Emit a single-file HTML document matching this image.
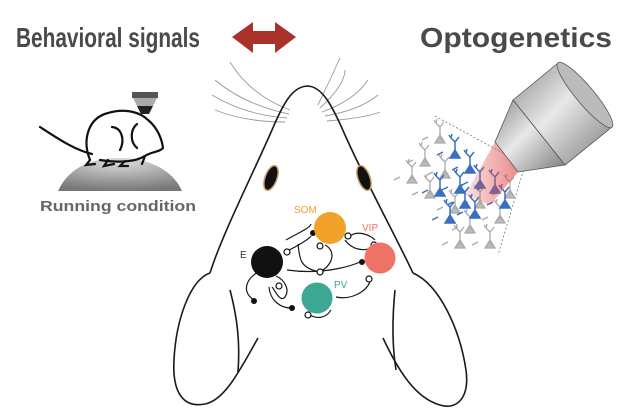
<!DOCTYPE html>
<html><head><meta charset="utf-8"><style>
html,body{margin:0;padding:0;background:#fff;width:628px;height:417px;overflow:hidden}
svg{display:block}
</style></head><body>
<svg width="628" height="417" viewBox="0 0 628 417" xmlns="http://www.w3.org/2000/svg">
<defs>
<radialGradient id="dome" cx="0.5" cy="0.1" r="0.9"><stop offset="0" stop-color="#ddd"/><stop offset="1" stop-color="#777"/></radialGradient>
<linearGradient id="cyl" x1="0" y1="0" x2="1" y2="1"><stop offset="0" stop-color="#8d8d8d"/><stop offset="0.45" stop-color="#e8e8e8"/><stop offset="1" stop-color="#7a7a7a"/></linearGradient>
<linearGradient id="beam" x1="0" y1="0" x2="1" y2="0"><stop offset="0" stop-color="#e04a4a" stop-opacity="0.2"/><stop offset="1" stop-color="#e04a4a" stop-opacity="0.8"/></linearGradient>
<g id="nrG" stroke="#aaa" fill="#bbb" stroke-width="1.3"><path d="M0,0 l-5,8 l10,0z"/><path d="M0,0 l0,-8 m0,0 l-4,-4 m4,4 l4,-5 m-8,1 l-2,-3 m2,3 l1,-4 m-9,18 l-6,3 m16,-3 l5,3" fill="none"/></g>
<g id="nrB" stroke="#3a6fc0" fill="#3a6fc0" stroke-width="1.5"><path d="M0,0 l-5,8 l10,0z"/><path d="M0,0 l0,-8 m0,0 l-4,-4 m4,4 l4,-5 m-8,1 l-2,-3 m2,3 l1,-4 m-9,18 l-6,3 m16,-3 l5,3" fill="none"/></g>
</defs>

<!-- titles -->
<text x="16" y="47" font-family="Liberation Sans Narrow, Liberation Sans, sans-serif" font-weight="bold" font-size="28" fill="#4a4a4a" textLength="184" lengthAdjust="spacingAndGlyphs">Behavioral signals</text>
<text x="420" y="47" font-family="Liberation Sans Narrow, Liberation Sans, sans-serif" font-weight="bold" font-size="28" fill="#4a4a4a" textLength="192" lengthAdjust="spacingAndGlyphs">Optogenetics</text>
<path d="M232,37 L253,22 L253,31 L275,31 L275,22 L296,37 L275,53 L275,44 L253,44 L253,53 Z" fill="#a8322a"/>

<!-- whiskers -->
<g stroke="#999" fill="none" stroke-width="0.9">
<path d="M290,110 Q250,95 230,62"/><path d="M289,114 Q245,105 215,80"/><path d="M287,118 Q245,115 212,95"/><path d="M285,122 Q245,122 215,110"/>
<path d="M318,105 Q330,80 340,58"/><path d="M320,108 Q345,85 345,70"/><path d="M322,112 Q355,100 368,80"/><path d="M325,116 Q360,110 378,95"/><path d="M327,121 Q365,118 380,112"/>
</g>

<!-- mouse head -->
<g stroke="#1a1a1a" fill="none" stroke-width="1.6">
<path d="M210,273 C222,235 250,180 272,130 C283,104 292,87 307,86 C322,86 332,105 345,135 C365,180 395,235 413,273"/>
<path d="M210,273 C190,280 176,320 174,360 C172,395 185,408 205,404 C225,400 240,370 258,338"/>
<path d="M230,290 C238,320 240,345 238,372"/>
<path d="M413,273 C440,285 460,330 466,370 C470,400 455,410 440,405 C415,398 398,370 383,338"/>
<path d="M395,290 C392,320 392,345 396,370"/>
</g>
<ellipse cx="271" cy="178" rx="6" ry="13" transform="rotate(20 271 178)" fill="#111" stroke="#c9a26a" stroke-width="1.5"/>
<ellipse cx="364" cy="178" rx="6" ry="13" transform="rotate(-20 364 178)" fill="#111" stroke="#c9a26a" stroke-width="1.5"/>

<!-- circuit -->
<g stroke="#1a1a1a" fill="none" stroke-width="1.2">
<path d="M285,252 C300,245 310,238 311,236 M286,240 C300,232 310,228 311,224"/>
<path d="M287,270 C330,276 360,262 360,262"/>
<path d="M298,244 C300,260 300,268 320,272 C335,263 335,250 325,245"/>
<path d="M345,240 C352,250 365,252 373,247 M350,236 C358,230 370,235 375,240"/>
<path d="M258,272 C245,280 242,292 254,300"/>
<path d="M276,276 C285,280 290,290 285,297 C280,303 275,290 272,287 M269,287 C270,300 280,308 291,308"/>
<path d="M336,297 C350,300 365,293 370,282"/>
<path d="M331,310 C325,320 315,318 310,315"/>
</g>
<g fill="#111"><circle cx="313" cy="233" r="3"/><circle cx="362" cy="262" r="3"/><circle cx="254" cy="301" r="3"/><circle cx="292" cy="308" r="3"/></g>
<g fill="#fff" stroke="#111" stroke-width="1.2"><circle cx="287" cy="252" r="3"/><circle cx="320" cy="246" r="3"/><circle cx="348" cy="236" r="3"/><circle cx="374" cy="245" r="3"/><circle cx="320" cy="272" r="3"/><circle cx="279" cy="286" r="3"/><circle cx="369" cy="279" r="3"/><circle cx="308" cy="315" r="3"/></g>
<circle cx="330" cy="228" r="16" fill="#f0a22a"/>
<circle cx="380" cy="258" r="15.5" fill="#ef7268"/>
<circle cx="267" cy="262" r="16" fill="#111"/>
<circle cx="317" cy="298" r="15.5" fill="#3aa893"/>
<g font-family="Liberation Sans, sans-serif" font-size="10">
<text x="294" y="213" fill="#f0a22a">SOM</text>
<text x="362" y="231" fill="#ef7268">VIP</text>
<text x="240" y="258" fill="#333">E</text>
<text x="334" y="288" fill="#3aa893">PV</text>
</g>

<!-- left: running mouse -->
<path d="M58,191 C70,165 95,158 120,158 C145,158 172,168 182,191 Z" fill="url(#dome)"/>
<g stroke="#111" fill="none" stroke-width="2.2" stroke-linecap="round">
<path d="M40,127 C60,140 75,150 92,154"/>
<path d="M90,160 C82,140 88,118 108,113 C125,108 140,112 148,120 C158,128 162,140 163,148 C160,152 150,152 145,156 C135,162 120,163 100,160"/>
<path d="M112,127 C122,128 125,140 120,150"/>
<path d="M137,124 C130,130 130,142 137,148"/>
<path d="M90,160 L86,165 L95,164 M108,160 L104,166 L114,164 M125,161 L120,166 L128,166 M145,156 L142,164"/>
</g>
<rect x="132" y="92" width="26" height="6" fill="#555"/>
<path d="M133,98 L157,98 L153,106 L137,106 Z" fill="#aaa"/>
<path d="M137,106 L153,106 L149,114 L141,114 Z" fill="#222"/>
<text x="40" y="211" font-family="Liberation Sans, sans-serif" font-weight="bold" font-size="15" fill="#666" textLength="156" lengthAdjust="spacingAndGlyphs">Running condition</text>

<!-- right: optogenetics -->
<path d="M435,116 L525,165 L498,255" fill="none" stroke="#666" stroke-width="0.7" stroke-dasharray="2,2"/>
<g>
<use href="#nrG" x="440" y="135"/><use href="#nrG" x="425" y="158"/><use href="#nrG" x="412" y="175"/><use href="#nrG" x="430" y="190"/>
<use href="#nrG" x="455" y="205"/><use href="#nrG" x="470" y="225"/><use href="#nrG" x="490" y="240"/><use href="#nrG" x="480" y="200"/>
<use href="#nrG" x="500" y="215"/><use href="#nrG" x="445" y="170"/><use href="#nrG" x="510" y="190"/><use href="#nrG" x="460" y="240"/>
<use href="#nrB" x="455" y="150"/><use href="#nrB" x="470" y="165"/><use href="#nrB" x="440" y="188"/><use href="#nrB" x="460" y="185"/>
<use href="#nrB" x="475" y="210"/><use href="#nrB" x="495" y="185"/><use href="#nrB" x="480" y="180"/><use href="#nrB" x="505" y="200"/>
<use href="#nrB" x="465" y="200"/><use href="#nrB" x="450" y="215"/>
</g>
<path d="M495,142 L518,172 L490,205 L465,195 Z" fill="url(#beam)" opacity="0.8"/>
<path d="M513,100 L558,63 L612,127 L565,165 Z" fill="url(#cyl)" stroke="#555" stroke-width="0.8"/>
<path d="M513,100 L565,165 L518,172 L495,142 Z" fill="url(#cyl)" stroke="#555" stroke-width="0.8"/>
<ellipse cx="585" cy="95" rx="9" ry="42" transform="rotate(-40 585 95)" fill="#bbb" stroke="#555" stroke-width="0.8"/>
</svg>
</body></html>
